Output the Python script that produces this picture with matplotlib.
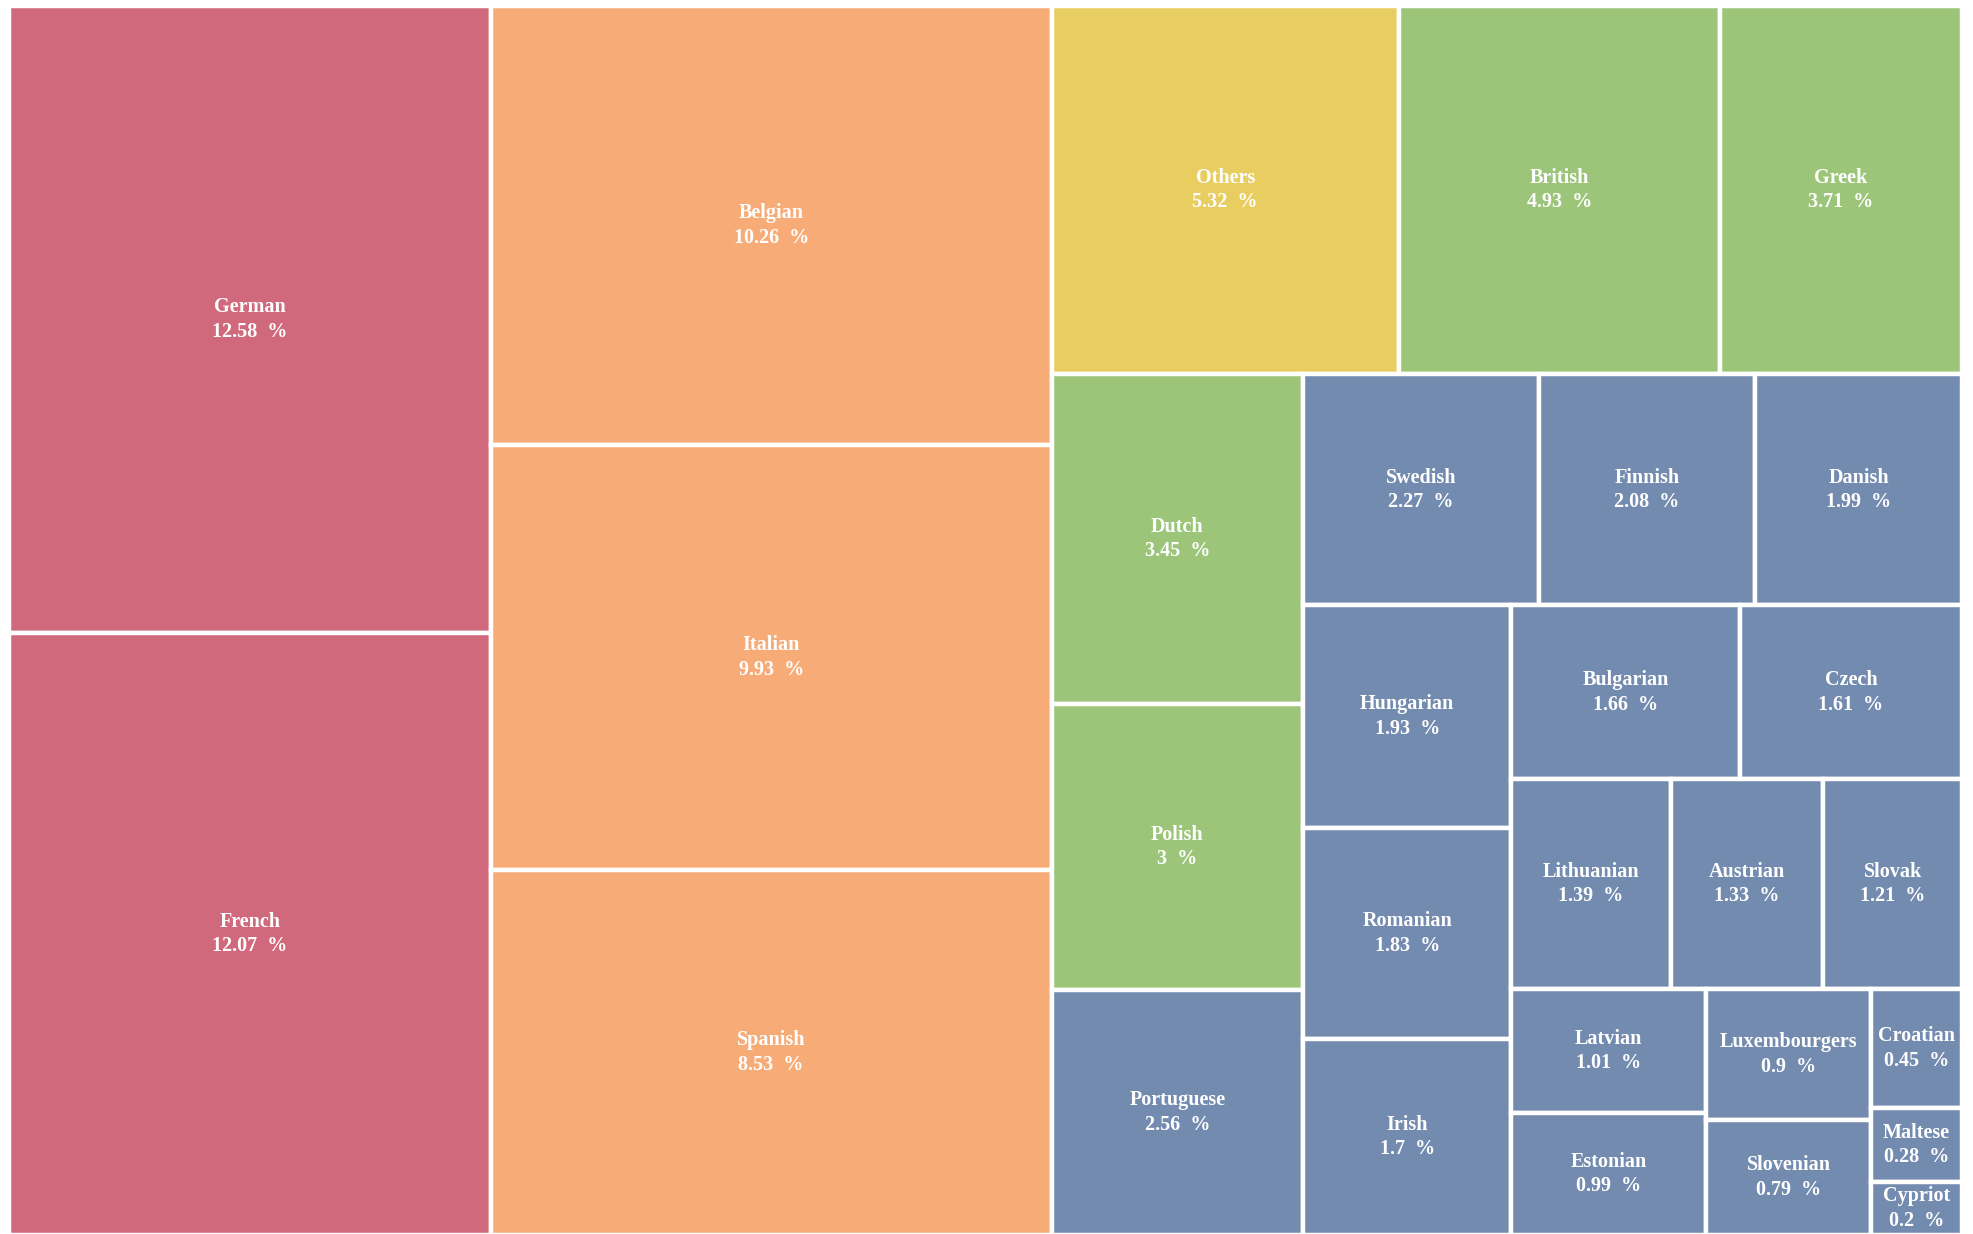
import matplotlib
matplotlib.use("Agg")
import matplotlib.pyplot as plt
from matplotlib.patches import Rectangle

names = ["German", "French", "Belgian", "Italian", "Spanish", "Others", "British", "Greek",
         "Dutch", "Polish", "Portuguese", "Swedish", "Finnish", "Danish", "Hungarian",
         "Romanian", "Irish", "Bulgarian", "Czech", "Lithuanian", "Austrian", "Slovak",
         "Latvian", "Estonian", "Luxembourgers", "Slovenian", "Croatian", "Maltese", "Cypriot"]
values = [12.58, 12.07, 10.26, 9.93, 8.53, 5.32, 4.93, 3.71, 3.45, 3, 2.56, 2.27, 2.08, 1.99,
          1.93, 1.83, 1.7, 1.66, 1.61, 1.39, 1.33, 1.21, 1.01, 0.99, 0.9, 0.79, 0.45, 0.28, 0.2]
groups = ["A", "A", "B", "B", "B", "C", "D", "D", "D", "D", "E", "E", "E", "E", "E", "E", "E",
          "E", "E", "E", "E", "E", "E", "E", "E", "E", "E", "E", "E"]
group_colors = {"A": "#D0697C", "B": "#F7AC78", "C": "#E8CD60", "D": "#9CC57A", "E": "#748BB0"}

W_PX, H_PX = 1973, 1234
X0, Y0, AW, AH = 9, 6, 1953, 1229


def worst(row, w):
    s = sum(row)
    return max(max(w * w * r / (s * s), (s * s) / (w * w * r)) for r in row)


def squarify(vals, x, y, w, h):
    total = sum(vals)
    areas = [v * w * h / total for v in vals]
    rects = []
    i = 0
    while i < len(areas):
        short = min(w, h)
        row = [areas[i]]
        j = i + 1
        while j < len(areas) and worst(row + [areas[j]], short) <= worst(row, short):
            row.append(areas[j])
            j += 1
        s = sum(row)
        if w >= h:
            cw = s / h
            cy = y
            for a in row:
                rh = a / cw
                rects.append((x, cy, cw, rh))
                cy += rh
            x += cw
            w -= cw
        else:
            rh = s / w
            cx = x
            for a in row:
                rw = a / rh
                rects.append((cx, y, rw, rh))
                cx += rw
            y += rh
            h -= rh
        i = j
    return rects


fig = plt.figure(figsize=(W_PX / 100, H_PX / 100), dpi=100)
ax = fig.add_axes([X0 / W_PX, 1 - (Y0 + AH) / H_PX, AW / W_PX, AH / H_PX])
ax.set_xlim(0, AW)
ax.set_ylim(AH, 0)
ax.axis("off")

rects = squarify(values, 0, 0, AW, AH)
for (rx, ry, rw, rh), n, v, g in zip(rects, names, values, groups):
    ax.add_patch(Rectangle((rx, ry), rw, rh, facecolor=group_colors[g],
                           edgecolor="white", linewidth=3.2))
    ax.text(rx + rw / 2, ry + rh / 2, f"{n}\n{v:g}  %", ha="center", va="center",
            color="white", fontsize=14.5, fontweight="bold", family="Liberation Serif",
            linespacing=1.3)

fig.savefig("out.png", dpi=100, facecolor="white")
